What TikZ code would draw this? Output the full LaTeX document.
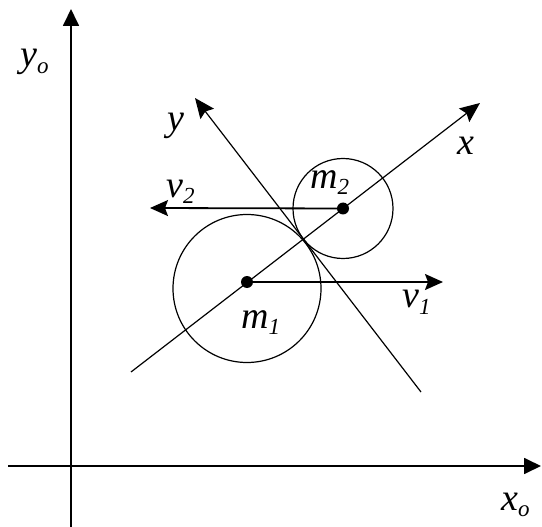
\documentclass[tikz,border=0pt]{standalone}
\usepackage{fontspec}
\setmainfont{Liberation Serif}
\usetikzlibrary{arrows.meta}
\newcommand{\lbl}[2]{\fontsize{38}{38}\selectfont\itshape #1\raisebox{-6pt}{\fontsize{23}{23}\selectfont #2}}
\tikzset{
  axis/.style={line width=1.8pt, -{Triangle[length=17pt,width=16pt]}},
  vec/.style={line width=1.8pt, -{Stealth[length=18pt,width=16pt,inset=3pt]}},
  thinax/.style={line width=1.2pt, -{Stealth[length=20pt,width=17pt,inset=3pt]}},
  circ/.style={line width=1.2pt},
  dot/.style={circle, fill=black, inner sep=0pt, minimum size=12pt},
  lab/.style={anchor=base west, inner sep=0pt}
}
\begin{document}
\begin{tikzpicture}[x=1pt,y=-1pt]
\useasboundingbox (0,0) rectangle (542,527);
% global axes
\coordinate (yob) at (71,527);
\coordinate (yot) at (71,9);
\coordinate (xol) at (8,466);
\coordinate (xor) at (541,466);
\draw[axis] (yob) -- (yot);
\draw[axis] (xol) -- (xor);
% body axes
\coordinate (xs) at (131,372);
\coordinate (xe) at (480,103);
\coordinate (ys) at (421,392);
\coordinate (ye) at (195,98);
\draw[thinax] (xs) -- (xe);
\draw[thinax] (ys) -- (ye);
% circles
\draw[circ] (247,288.5) circle[radius=74];
\draw[circ] (343,208.5) circle[radius=50];
\node[dot] (m1) at (247,282) {};
\node[dot] (m2) at (343,208.5) {};
% velocities
\coordinate (v1e) at (443,282);
\coordinate (v2e) at (150,208);
\draw[vec] (m1.center) -- (v1e);
\draw[vec] (m2.center) -- (v2e);
% labels
\node[lab] (lyo) at (20,67) {\lbl{y}{o}};
\node[lab] (lxo) at (501,510) {\lbl{x}{o}};
\node[lab] (ly) at (167,131) {\lbl{y}{}};
\node[lab] (lx) at (457,155) {\lbl{x}{}};
\node[lab] (lm1) at (241,328) {\lbl{m}{1}};
\node[lab] (lm2) at (310,189) {\lbl{m}{2}};
\node[lab] (lv1) at (402,308) {\lbl{v}{1}};
\node[lab] (lv2) at (166,197) {\lbl{v}{2}};
\end{tikzpicture}
\end{document}
